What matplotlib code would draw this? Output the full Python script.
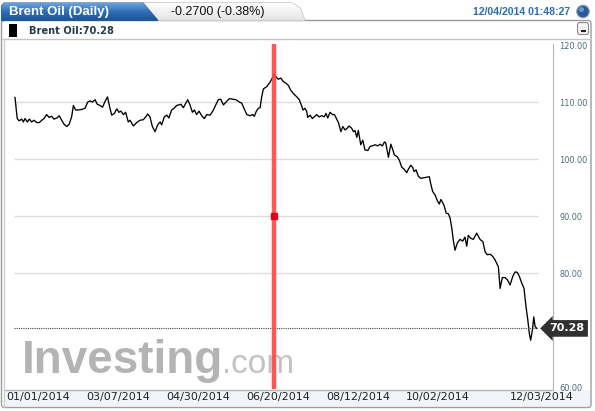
import numpy as np
import matplotlib.pyplot as plt
from matplotlib.patches import Polygon, Rectangle, FancyBboxPatch, Circle
from matplotlib.colors import LinearSegmentedColormap
from matplotlib.transforms import blended_transform_factory

# Brent Oil daily close, position = trading session number
session = [0, 1.0, 1.9, 3.0, 3.8, 4.5, 5.6, 6.5, 7.5, 8.6,
           9.8, 11.0, 12.1, 13.1, 14.3, 15.4, 16.6, 17.6, 18.9, 20.0,
           21.1, 22.2, 23.4, 24.5, 25.6, 26.4, 27.4, 28.6, 30.2, 31.6,
           32.9, 33.9, 35.0, 36.2, 37.2, 38.4, 39.6, 40.7, 41.8, 42.7,
           43.7, 44.9, 46.0, 47.0, 47.9, 49.0, 50.0, 51.2, 52.0, 53.5,
           55.0, 56.5, 58.0, 59.1, 60.0, 61.0, 62.1, 63.3, 64.5, 65.6,
           66.3, 67.5, 68.6, 69.6, 70.8, 71.9, 73.1, 74.1, 75.0, 76.1,
           77.2, 78.1, 79.1, 80.2, 81.1, 82.1, 83.2, 84.4, 85.6, 86.7,
           88.2, 89.4, 90.9, 91.9, 93.0, 94.2, 95.4, 96.9, 98.4, 99.9,
           101.4, 102.5, 103.5, 104.8, 106.2, 107.5, 108.2, 109.0, 110.0, 110.8,
           111.5, 112.3, 113.8, 115.3, 116.5, 117.1, 118.0, 119.0, 120.1, 121.3,
           122.5, 123.6, 124.6, 125.8, 127.4, 128.5, 129.3, 130.2, 131.1, 131.9,
           132.3, 133.4, 134.4, 135.3, 136.4, 137.4, 138.7, 139.8, 140.6, 141.4,
           142.4, 143.5, 144.4, 145.4, 146.2, 147.3, 148.2, 149.2, 150.2, 151.0,
           152.2, 153.0, 153.7, 154.5, 155.2, 156.3, 157.2, 158.2, 159.5, 160.5,
           161.5, 162.8, 164.0, 165.0, 166.1, 167.0, 167.6, 168.8, 169.9, 170.8,
           171.5, 172.8, 173.7, 174.8, 175.9, 177.1, 177.8, 178.9, 179.8, 180.4,
           181.3, 182.3, 183.4, 184.6, 186.1, 187.3, 187.9, 188.8, 189.9, 190.9,
           191.8, 192.5, 193.4, 194.0, 194.9, 195.9, 196.7, 197.4, 198.2, 198.9,
           200.0, 201.2, 202.4, 203.4, 204.2, 204.9, 206.0, 207.2, 208.7, 210.2,
           211.5, 212.5, 213.5, 214.8, 216.0, 217.0, 218.5, 219.3, 220.3, 221.5,
           222.6, 223.8, 225.0, 226.1, 227.1, 228.0, 229.1, 230.1, 231.0, 231.8,
           232.5, 233.1, 234.0, 234.5, 235.1, 235.9]
price = [110.8, 107.1, 106.7, 107.0, 106.5, 107.1, 106.5, 107.0, 106.5, 106.8,
         106.4, 106.4, 106.8, 107.1, 107.8, 107.3, 107.5, 107.0, 107.2, 107.6,
         106.8, 106.1, 105.7, 106.1, 107.4, 109.4, 108.6, 108.6, 108.7, 108.9,
         110.0, 110.2, 110.0, 110.4, 109.6, 109.4, 109.1, 110.1, 110.9, 109.3,
         107.7, 108.0, 108.8, 108.2, 108.4, 107.8, 108.2, 106.5, 106.8, 105.8,
         106.4, 106.8, 106.9, 107.4, 107.9, 107.4, 105.7, 104.8, 106.0, 106.5,
         106.0, 107.4, 107.7, 107.2, 108.6, 108.9, 109.4, 109.5, 109.6, 109.0,
         109.8, 110.4, 109.5, 108.2, 108.6, 107.8, 108.4, 107.6, 107.1, 107.8,
         107.7, 108.4, 109.6, 110.4, 110.5, 109.5, 110.0, 110.6, 110.5, 110.4,
         110.0, 109.8, 108.9, 107.8, 107.6, 107.8, 107.5, 108.3, 108.9, 109.0,
         110.9, 112.3, 112.7, 113.5, 114.3, 114.9, 114.4, 114.0, 114.2, 113.6,
         113.3, 112.9, 112.1, 111.5, 110.9, 110.4, 109.6, 108.6, 108.9, 108.3,
         107.3, 107.7, 107.1, 107.4, 107.8, 107.4, 107.6, 107.4, 108.0, 107.2,
         108.2, 107.8, 107.8, 107.0, 106.4, 104.8, 105.7, 105.1, 105.4, 105.8,
         105.4, 104.8, 105.0, 103.8, 105.0, 102.5, 103.3, 101.6, 101.5, 102.2,
         102.3, 102.5, 102.3, 102.6, 102.3, 103.0, 102.8, 100.3, 102.6, 101.6,
         100.7, 100.4, 99.8, 98.6, 98.2, 97.6, 98.2, 98.9, 98.5, 97.8,
         98.1, 97.0, 96.6, 96.7, 96.8, 96.9, 95.7, 94.3, 93.7, 92.7,
         92.1, 92.9, 92.3, 91.8, 90.5, 90.4, 89.6, 88.0, 85.6, 84.0,
         85.3, 85.9, 85.6, 86.3, 84.7, 86.6, 86.1, 85.9, 87.0, 85.9,
         85.5, 83.7, 83.2, 83.3, 82.9, 82.3, 81.1, 77.3, 79.2, 79.2,
         78.8, 77.9, 79.4, 80.2, 80.1, 79.4, 78.2, 77.3, 74.1, 71.8,
         69.4, 68.2, 70.3, 72.3, 70.6, 70.28]

last_price = 70.28
cursor_session = 117.1
date_ticks = [10.4, 46.6, 82.7, 118.9, 155.0, 191.2, 238.2]
date_labels = ['01/01/2014', '03/07/2014', '04/30/2014', '06/20/2014',
               '08/12/2014', '10/02/2014', '12/03/2014']
price_ticks = [60, 80, 90, 100, 110, 120]
grid_levels = [80, 90, 100, 110]

W, H = 595, 411
fig = plt.figure(figsize=(W / 100, H / 100), dpi=100)

# background layer drawn in pixel coordinates
bg = fig.add_axes([0, 0, 1, 1], zorder=0)
bg.axis('off')

frame = FancyBboxPatch((1.5, 20.5), 589.5, 387, boxstyle='round,pad=0,rounding_size=3',
                       fc='white', ec='#9c9c9c', lw=1)
bg.add_patch(frame)

# header tabs
grey_tab = Polygon([(143, 3), (292, 3), (300, 8), (305, 20.5), (158, 20.5)],
                   closed=True, fc='none', ec='#b4b4b4', lw=0.8)
bg.add_patch(grey_tab)
grey_grad = bg.imshow(np.linspace(0, 1, 50).reshape(-1, 1), extent=(143, 306, 21, 3),
                      cmap=LinearSegmentedColormap.from_list('g', ['#ffffff', '#e3e3e3']),
                      aspect='auto', zorder=1)
grey_grad.set_clip_path(grey_tab)

blue_tab = Polygon([(1.5, 20.5), (1.5, 6), (4, 3), (143, 3), (158, 20.5)],
                   closed=True, fc='none', ec='#2b5f9c', lw=0.8, zorder=2)
bg.add_patch(blue_tab)
blue_grad = bg.imshow(np.linspace(0, 1, 50).reshape(-1, 1), extent=(1, 159, 21, 3),
                      cmap=LinearSegmentedColormap.from_list('b', ['#6aa2dc', '#2d6cb3', '#1c5597']),
                      aspect='auto', zorder=2)
blue_grad.set_clip_path(blue_tab)

bg.text(9, 12.5, 'Brent Oil (Daily)', color='white', fontsize=9.5, fontweight='bold',
        family='Liberation Sans', va='center', ha='left', zorder=3)
bg.text(218, 12, '-0.2700 (-0.38%)', color='#111111', fontsize=9, family='Liberation Sans',
        va='center', ha='center', zorder=3)
bg.text(570, 12, '12/04/2014 01:48:27', color='#2d6db5', fontsize=7.6, fontweight='bold',
        family='Liberation Sans', va='center', ha='right', zorder=3)
bg.add_patch(Circle((583, 11.5), 6.3, fc='#2a5aa0', ec='#9aa4b0', lw=0.8, zorder=3))
bg.add_patch(Circle((581.5, 9.5), 2.5, fc='#7fa7dc', ec='none', alpha=0.8, zorder=3))

# legend row
bg.add_patch(Rectangle((9, 24), 8, 13, fc='black', ec='none'))
bg.text(29, 30.5, 'Brent Oil:70.28', color='#243a4a', fontsize=7.1, fontweight='bold',
        family='DejaVu Sans', va='center', ha='left')
bg.add_patch(FancyBboxPatch((577.5, 22.5), 11, 12, boxstyle='round,pad=0,rounding_size=2.5',
                            fc='#f4f4f4', ec='#8a8a8a', lw=0.8))
bg.plot([580.5, 585.5], [31, 31], color='#222222', lw=1.5, solid_capstyle='butt')

# separators and frame lines
bg.plot([2, 591], [39.5, 39.5], color='#c4c4c4', lw=1)
bg.plot([4, 4], [40, 407], color='#cfcfcf', lw=1)
bg.add_patch(Rectangle((5, 390), 585, 16, fc='#f1f5fa', ec='none'))
bg.plot([5, 553], [389.5, 389.5], color='#b5b5b5', lw=1)

# soft shadow on the left edge of the plot
shade = bg.imshow(np.linspace(0, 1, 30).reshape(1, -1), extent=(5, 22, 389, 40),
                  cmap=LinearSegmentedColormap.from_list('s', ['#e9e9e9', '#ffffff']),
                  aspect='auto', zorder=0.5)

# watermark
bg.text(22, 373, 'Investing', color='#b4b4b4', fontsize=33, fontweight='bold',
        family='Liberation Sans', va='baseline', ha='left')
bg.text(222, 373, '.com', color='#c2c2c2', fontsize=24, family='Liberation Sans',
        va='baseline', ha='left')

bg.set_xlim(0, W)
bg.set_ylim(H, 0)

# main chart
ax = fig.add_axes([14 / W, 1 - 389 / H, (553 - 14) / W, (389 - 44) / H], zorder=1)
ax.patch.set_alpha(0)
ax.set_xlim(-0.45, 243.2)
ax.set_ylim(59.65, 120.18)

ax.hlines(grid_levels, -0.45, 236.4, color='#dcdcdc', lw=1)
ax.plot(session, price, color='black', lw=0.95)
ax.hlines(last_price, -0.45, 235.9, color='#444444', lw=0.8, linestyles=(0, (1, 1)))

ax.axvline(cursor_session, color='#ff4545', lw=3.2, alpha=0.9)
ax.plot([cursor_session], [0.5], marker='s', ms=5, color='#e0001a',
        transform=blended_transform_factory(ax.transData, ax.transAxes))

ax.annotate(f'{last_price:.2f}', xy=(1.026, last_price),
            xycoords=ax.get_yaxis_transform(), ha='center', va='center',
            color='white', fontsize=8, fontweight='bold', family='DejaVu Sans',
            bbox=dict(boxstyle='larrow,pad=0.3', fc='#303030', ec='none'),
            annotation_clip=False)

for side in ['left', 'top', 'bottom']:
    ax.spines[side].set_visible(False)
ax.spines['right'].set_color('#b5b5b5')

ax.yaxis.tick_right()
ax.set_yticks(price_ticks)
ax.set_yticklabels([f'{v:.2f}' for v in price_ticks])
ax.tick_params(axis='y', length=0, pad=4.5, labelsize=5.9, labelcolor='#4a6a7a')
ax.set_xticks(date_ticks)
ax.set_xticklabels(date_labels)
ax.tick_params(axis='x', length=0, pad=2.5, labelsize=8, labelcolor='#222222')
for lbl in ax.get_xticklabels() + ax.get_yticklabels():
    lbl.set_family('DejaVu Sans')

fig.savefig('out.png', dpi=100)
